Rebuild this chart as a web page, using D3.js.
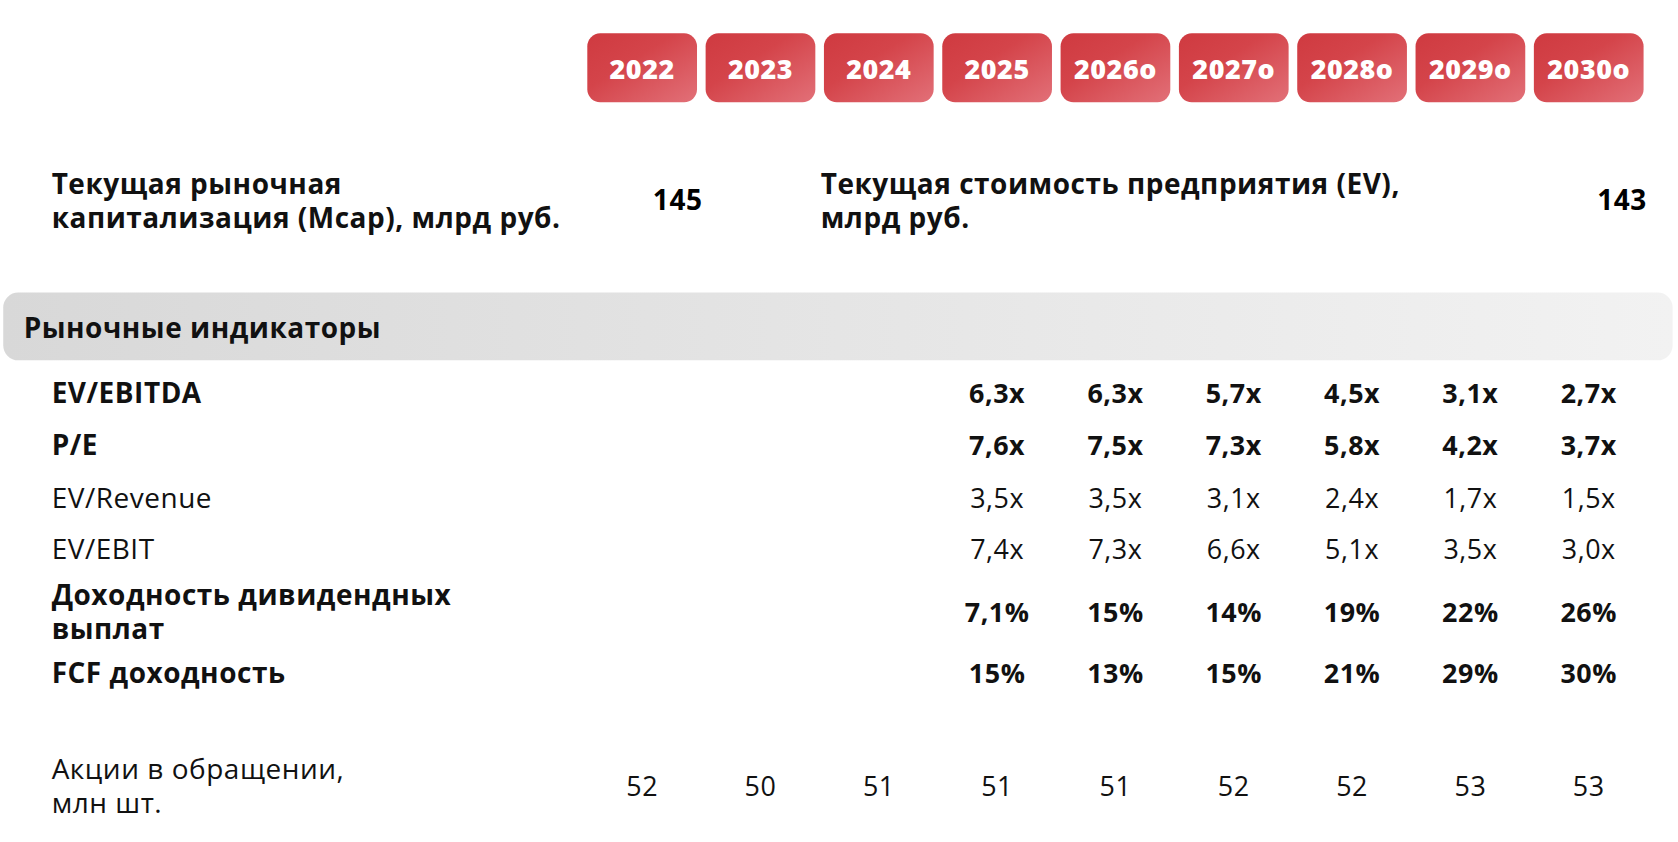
<!DOCTYPE html>
<html><head><meta charset="utf-8">
<script src="https://cdn.jsdelivr.net/npm/d3@7"></script>
<style>body{margin:0;background:#fff}svg{font-family:"Open Sans",sans-serif}text{letter-spacing:0.5px}</style>
</head><body><svg id="c" width="1678" height="842"></svg>
<script>
var years = ["2022","2023","2024","2025","2026о","2027о","2028о","2029о","2030о"];
var evEbitda = [null,null,null,"6,3x","6,3x","5,7x","4,5x","3,1x","2,7x"];
var pe = [null,null,null,"7,6x","7,5x","7,3x","5,8x","4,2x","3,7x"];
var evRevenue = [null,null,null,"3,5x","3,5x","3,1x","2,4x","1,7x","1,5x"];
var evEbit = [null,null,null,"7,4x","7,3x","6,6x","5,1x","3,5x","3,0x"];
var divYield = [null,null,null,"7,1%","15%","14%","19%","22%","26%"];
var fcfYield = [null,null,null,"15%","13%","15%","21%","29%","30%"];
var shares = ["52","50","51","51","51","52","52","53","53"];

var rows = [
  {label:["EV/EBITDA"], vals:evEbitda, bold:true, y:366},
  {label:["P/E"], vals:pe, bold:true, y:414},
  {label:["EV/Revenue"], vals:evRevenue, bold:false, y:463},
  {label:["EV/EBIT"], vals:evEbit, bold:false, y:511},
  {label:["Доходность дивидендных","выплат"], vals:divYield, bold:true, y:569},
  {label:["FCF доходность"], vals:fcfYield, bold:true, y:626},
  {label:["Акции в обращении,","млн шт."], vals:shares, bold:false, y:731}
];

var svg = d3.select("#c");
// layout measured on a 1560-wide copy of the picture
var root = svg.append("g").attr("transform","scale(" + (1678/1560) + ")");
var x = d3.scalePoint().domain(years).range([597,1477]);
var defs = svg.append("defs");
var g1 = defs.append("linearGradient").attr("id","red").attr("x1",0).attr("y1",0).attr("x2",1).attr("y2",1);
g1.append("stop").attr("offset","0%").attr("stop-color","#cf3a40");
g1.append("stop").attr("offset","40%").attr("stop-color","#d4444a");
g1.append("stop").attr("offset","100%").attr("stop-color","#e27078");
var g2 = defs.append("linearGradient").attr("id","grey");
g2.append("stop").attr("offset","0%").attr("stop-color","#d8d8d8");
g2.append("stop").attr("offset","100%").attr("stop-color","#f2f2f2");

// year buttons
var btn = root.selectAll("g.btn").data(years).enter().append("g");
btn.append("rect").attr("x",function(d){return x(d)-51;}).attr("y",31)
  .attr("width",102).attr("height",64).attr("rx",12).attr("fill","url(#red)");
btn.append("text").attr("x",function(d){return x(d);}).attr("y",73)
  .attr("text-anchor","middle").attr("font-size",25).attr("font-weight",800)
  .attr("fill","#fff").text(function(d){return d;});

// mcap / ev
var t1 = root.append("text").attr("font-size",26).attr("font-weight",700).attr("fill","#111");
t1.append("tspan").attr("x",48).attr("y",180).text("Текущая рыночная");
t1.append("tspan").attr("x",48).attr("y",212).text("капитализация (Mcap), млрд руб.");
root.append("text").attr("x",630).attr("y",195).attr("text-anchor","middle").attr("font-size",26).attr("font-weight",700).text("145");
var t2 = root.append("text").attr("font-size",26).attr("font-weight",700).attr("fill","#111");
t2.append("tspan").attr("x",763).attr("y",180).text("Текущая стоимость предприятия (EV),");
t2.append("tspan").attr("x",763).attr("y",212).text("млрд руб.");
root.append("text").attr("x",1531).attr("y",195).attr("text-anchor","end").attr("font-size",26).attr("font-weight",700).text("143");

// section band
root.append("rect").attr("x",3).attr("y",272).attr("width",1552).attr("height",63).attr("rx",14).attr("fill","url(#grey)");
root.append("text").attr("x",22).attr("y",314).attr("font-size",26).attr("font-weight",700).attr("fill","#111").text("Рыночные индикаторы");

// rows
var r = root.selectAll("g.row").data(rows).enter().append("g");
r.each(function(d){
  var g = d3.select(this);
  var w = d.bold ? 700 : 400;
  var lt = g.append("text").attr("font-size",26).attr("font-weight",w).attr("fill","#111");
  if (d.label.length === 1) {
    lt.append("tspan").attr("x",48).attr("y",d.y+9).text(d.label[0]);
  } else {
    lt.append("tspan").attr("x",48).attr("y",d.y-7).text(d.label[0]);
    lt.append("tspan").attr("x",48).attr("y",d.y+25).text(d.label[1]);
  }
  g.selectAll("text.v").data(d.vals.map(function(v,i){return {v:v,yr:years[i]};}).filter(function(o){return o.v;}))
    .enter().append("text").attr("x",function(o){return x(o.yr);}).attr("y",d.y+9)
    .attr("text-anchor","middle").attr("font-size",25).attr("font-weight",w).attr("fill","#111")
    .text(function(o){return o.v;});
});
</script></body></html>
